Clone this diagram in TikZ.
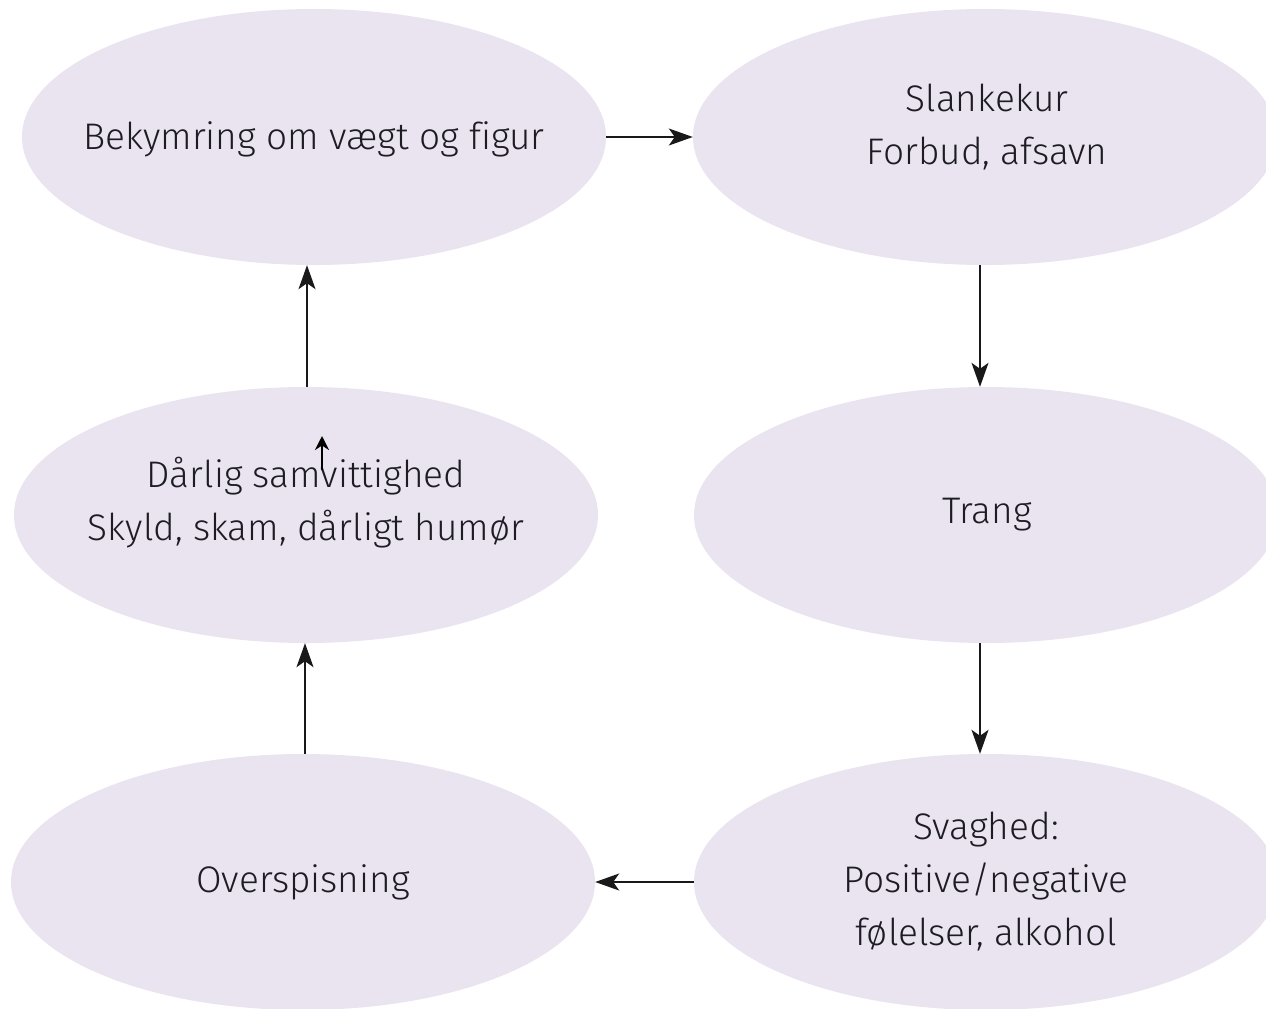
\documentclass[tikz,border=0pt]{standalone}
\usepackage{fontspec}
\setmainfont{Fira Sans Light}[Ligatures=NoCommon]
\usetikzlibrary{shapes.geometric,arrows.meta}
\definecolor{ellfill}{RGB}{234,227,240}
\definecolor{txt}{RGB}{28,28,34}
\begin{document}
\begin{tikzpicture}[x=1pt,y=-1pt,
  stage/.style={ellipse,fill=ellfill,draw=none,minimum width=584pt,minimum height=256pt,inner sep=0pt},
  lbl/.style={align=center,text=txt,inner sep=0pt,font=\fontsize{37}{53}\selectfont},
  conn/.style={draw=black!90,line width=1.5pt,-{Stealth[length=24pt,width=17pt,inset=6pt]}}]
\useasboundingbox (0,0) rectangle (1266,1009);
\fill[white] (0,0) rectangle (1266,1009);
\node[stage] (a) at (314,137) {};
\node[stage] (b) at (985,137) {};
\node[stage] (c) at (986,515) {};
\node[stage] (d) at (986,882) {};
\node[stage] (e) at (303,882) {};
\node[stage] (f) at (306,515) {};
\node[lbl] (ta) at ([yshift=-2pt]a.center) {Bekymring om vægt og figur};
\node[lbl] (tb) at ([xshift=2pt,yshift=10pt]b.center) {Slankekur\\Forbud, afsavn};
\node[lbl] (tc) at ([xshift=1pt]c.center) {Trang};
\node[lbl] (td) at (d.center) {Svaghed:\\Positive/negative\\følelser, alkohol};
\node[lbl] (te) at (e.center) {Overspisning};
\node[lbl] (tf) at ([yshift=12pt]f.center) {Dårlig samvittighed\\Skyld, skam, dårligt humør};
\draw[conn] (a.east) -- (b.west);
\draw[conn] ([xshift=-5pt]b.south) -- ([xshift=-6pt]c.north);
\draw[conn] ([xshift=-6pt]c.south) -- ([xshift=-6pt]d.north);
\draw[conn] (d.west) -- (e.east);
\draw[conn] ([xshift=2pt]e.north) -- ([xshift=-1pt]f.south);
\draw[conn] ([xshift=1pt]f.north) -- ([xshift=-7pt]a.south);
\coordinate (s1) at (322,470);
\coordinate (s2) at (322,436);
\draw[line width=2.2pt,-{Stealth[length=14pt,width=14pt]}] (s1) -- (s2);
\end{tikzpicture}
\end{document}
